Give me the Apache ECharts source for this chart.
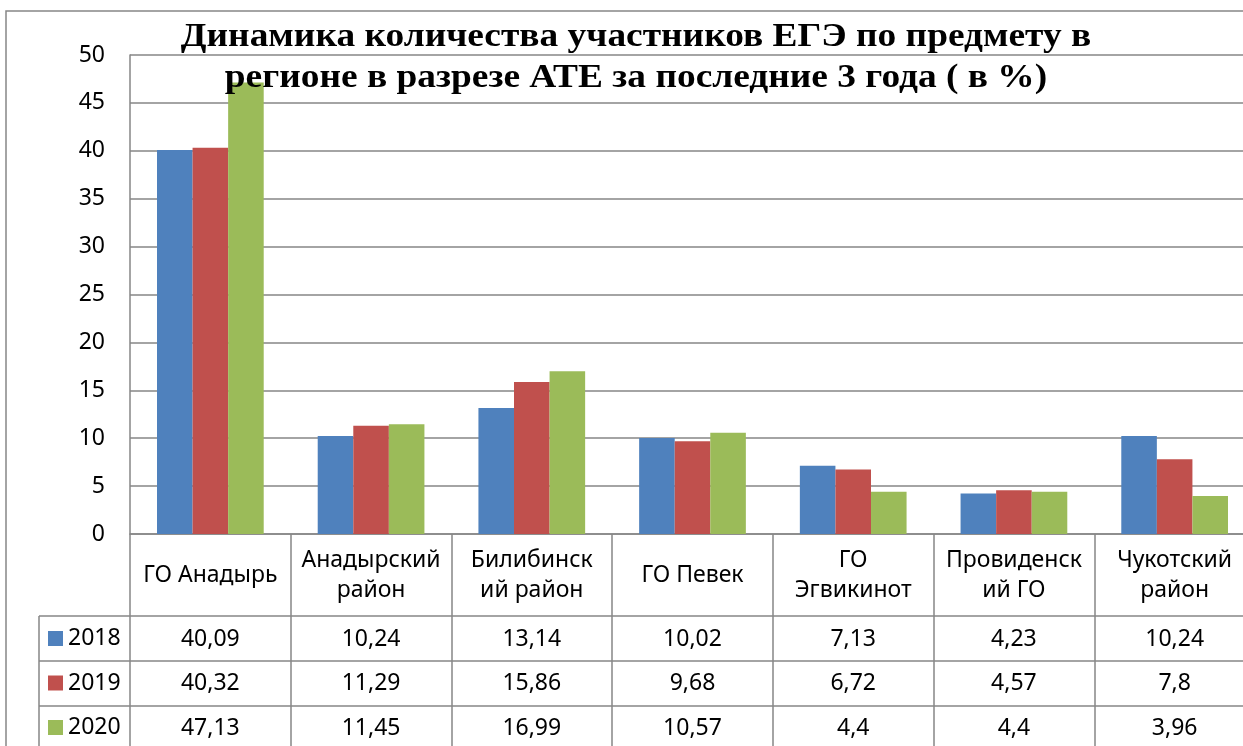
<!DOCTYPE html>
<html>
<head>
<meta charset="utf-8">
<script src="https://cdn.jsdelivr.net/npm/echarts@6/dist/echarts.min.js"></script>
<style>
  html, body { margin: 0; padding: 0; background: #fff; }
  #chart { width: 1243px; height: 746px; }
</style>
</head>
<body>
<div id="chart"></div>
<script>
const categories = ['ГО Анадырь', 'Анадырский\nрайон', 'Билибинск\nий район', 'ГО Певек', 'ГО\nЭгвикинот', 'Провиденск\nий ГО', 'Чукотский\nрайон']
const years = ['2018', '2019', '2020']
const values2018 = [40.09, 10.24, 13.14, 10.02, 7.13, 4.23, 10.24]
const values2019 = [40.32, 11.29, 15.86, 9.68, 6.72, 4.57, 7.8]
const values2020 = [47.13, 11.45, 16.99, 10.57, 4.4, 4.4, 3.96]
const yMin = 0
const yMax = 50
const yStep = 5
const titleText = 'Динамика количества участников ЕГЭ по предмету в\nрегионе в разрезе АТЕ за последние 3 года ( в %)'

const seriesValues = [values2018, values2019, values2020]
const colors = ['#4F81BD', '#C0504D', '#9BBB59']
const gray = '#868686'
const font = 'Noto Sans'
const box = { left: 130, right: -12, top: 55, bottom: 212, outerBoundsMode: 'none' }
const axisY = 534
const rowCenters = [639, 683.5, 728]
const tableRight = 1255

const fmt = v => String(v).replace('.', ',')

const chart = echarts.init(document.getElementById('chart'))

const grids = [box]
const xAxes = [{
  type: 'category',
  gridIndex: 0,
  data: categories,
  boundaryGap: true,
  axisLine: { show: true, lineStyle: { color: gray, width: 1.5 } },
  axisTick: { show: true, length: 215, lineStyle: { color: gray, width: 1.5 } },
  axisLabel: {
    interval: 0, margin: 41, verticalAlign: 'middle', align: 'center',
    fontFamily: font, fontSize: 23, lineHeight: 30, color: '#000'
  },
  splitLine: { show: false }
}]
const yAxes = [{
  type: 'value',
  gridIndex: 0,
  min: yMin, max: yMax, interval: yStep,
  axisLine: { show: true, lineStyle: { color: gray, width: 1.5 } },
  axisTick: { show: false },
  axisLabel: { margin: 25, fontFamily: font, fontSize: 23, color: '#000' },
  splitLine: { show: true, lineStyle: { color: gray, width: 1.5 } }
}]

seriesValues.forEach((vals, k) => {
  grids.push(box)
  xAxes.push({
    type: 'category',
    gridIndex: k + 1,
    data: categories,
    axisLine: { show: false },
    axisTick: { show: false },
    splitLine: { show: false },
    axisLabel: {
      interval: 0, margin: rowCenters[k] - axisY, verticalAlign: 'middle',
      fontFamily: font, fontSize: 23, color: '#000',
      formatter: (v, i) => fmt(vals[i])
    }
  })
  yAxes.push({ type: 'value', gridIndex: k + 1, show: false })
})

const graphics = []
;[616, 661, 706].forEach(y => {
  graphics.push({ type: 'line', shape: { x1: 39, y1: y, x2: tableRight, y2: y }, style: { stroke: gray, lineWidth: 1.5 } })
})
graphics.push({ type: 'line', shape: { x1: 39, y1: 616, x2: 39, y2: 760 }, style: { stroke: gray, lineWidth: 1.5 } })
graphics.push({ type: 'rect', shape: { x: 6, y: 11, width: 1400, height: 900 }, style: { stroke: gray, fill: null, lineWidth: 1.5 }, z: -1 })
graphics.push({
  type: 'text',
  x: 636,
  y: 17,
  scaleX: 1.1,
  z: 100,
  style: {
    text: titleText,
    align: 'center',
    verticalAlign: 'top',
    font: 'bold 34px "Liberation Serif"',
    lineHeight: 41,
    fill: '#000'
  }
})

const option = {
  backgroundColor: '#fff',
  animation: false,
  color: colors,
  legend: {
    data: years,
    orient: 'vertical',
    left: 48,
    top: 627,
    padding: 0,
    itemWidth: 15,
    itemHeight: 15,
    itemGap: 21.5,
    icon: 'rect',
    selectedMode: false,
    textStyle: { fontFamily: font, fontSize: 23, lineHeight: 23, color: '#000' }
  },
  grid: grids,
  xAxis: xAxes,
  yAxis: yAxes,
  graphic: graphics,
  series: seriesValues.map((vals, k) => ({
    name: years[k],
    type: 'bar',
    xAxisIndex: 0,
    yAxisIndex: 0,
    data: vals,
    barGap: '0%',
    barCategoryGap: '33.6%',
    itemStyle: { color: colors[k] }
  }))
}

chart.setOption(option)
</script>
</body>
</html>
